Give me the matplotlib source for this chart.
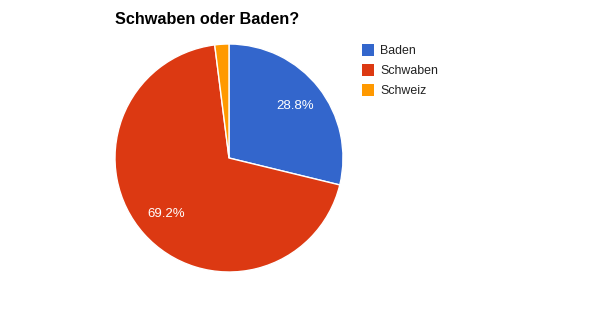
import matplotlib.pyplot as plt

labels = ['Baden', 'Schwaben', 'Schweiz']
values = [28.8, 69.2, 2.0]
colors = ['#3366cc', '#dc3912', '#ff9900']

fig = plt.figure(figsize=(5.99, 3.12), dpi=100)
plt.rcParams['font.family'] = ['Liberation Sans', 'DejaVu Sans']

# pie axes: center (229,158) px, radius 114 px
ax = fig.add_axes([115 / 599, 40 / 312, 228 / 599, 228 / 312])
wedges, texts, autotexts = ax.pie(
    values, colors=colors, startangle=90, counterclock=False,
    autopct=lambda p: f'{p:.1f}%' if p > 5 else '', pctdistance=0.74,
    wedgeprops=dict(edgecolor='white', linewidth=1),
    textprops=dict(color='white', fontsize=9.5))
ax.set_xlim(-1, 1)
ax.set_ylim(-1, 1)
ax.set_aspect('equal')

fig.text(115 / 599, 1 - 24 / 312, 'Schwaben oder Baden?', fontsize=11.7,
         fontweight='bold', color='#000000', ha='left', va='baseline')

for i, (lab, col) in enumerate(zip(labels, colors)):
    y = 1 - (49.5 + i * 20) / 312
    fig.patches.append(plt.Rectangle((362 / 599, y - 6 / 312), 12 / 599, 12 / 312,
                                     transform=fig.transFigure, facecolor=col,
                                     edgecolor='none'))
    fig.text(380 / 599, y - 4.5 / 312, lab, fontsize=8.9, color='#222222',
             ha='left', va='baseline')

fig.savefig('out.png', dpi=100)
